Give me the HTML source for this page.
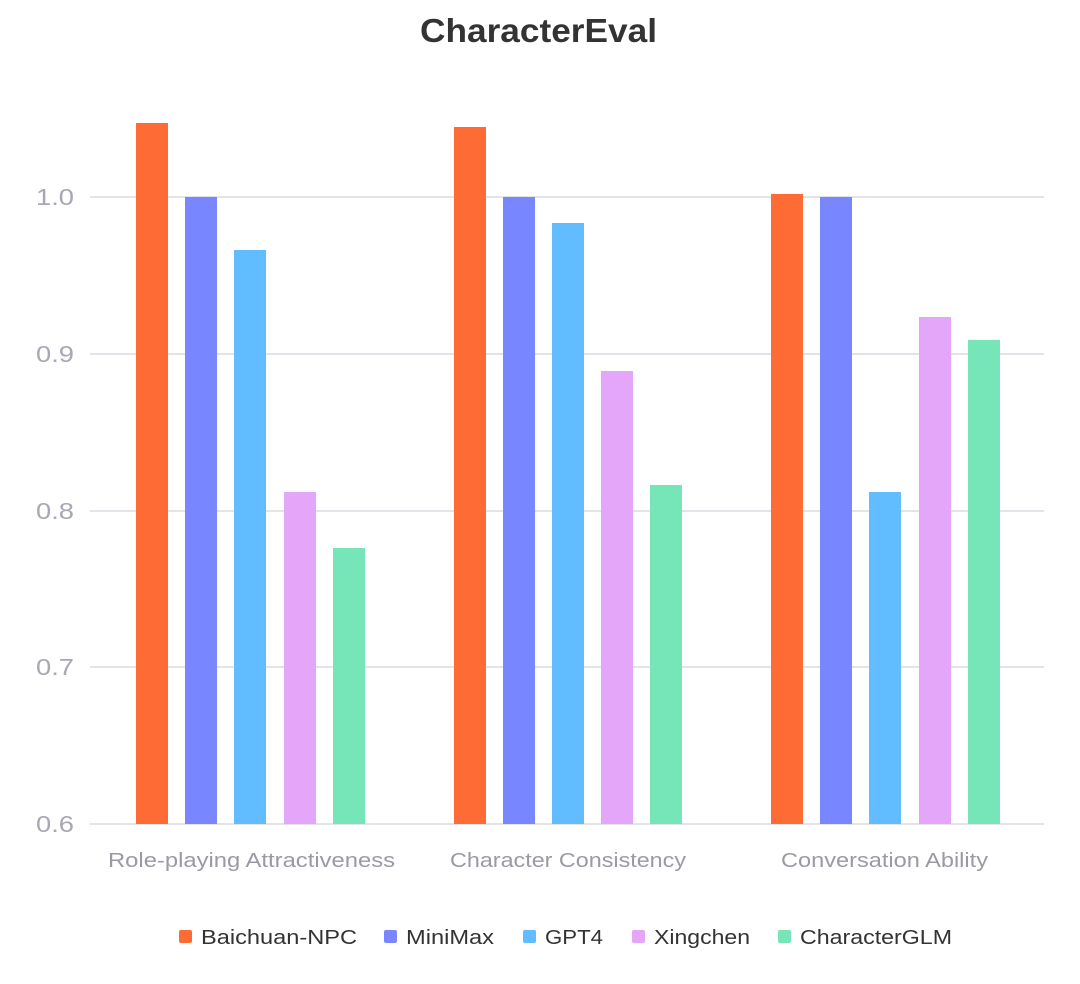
<!DOCTYPE html>
<html><head><meta charset="utf-8"><style>
body{margin:0;background:#fff;}
svg{display:block;font-family:"Liberation Sans",sans-serif;}
</style></head><body>
<svg width="1080" height="984" viewBox="0 0 1080 984">
<text x="420" y="42" font-size="33" font-weight="bold" fill="#333" textLength="237" lengthAdjust="spacingAndGlyphs">CharacterEval</text>
<g stroke="#e3e3ea" stroke-width="2">
<line x1="90" x2="1044" y1="197" y2="197"/>
<line x1="90" x2="1044" y1="354" y2="354"/>
<line x1="90" x2="1044" y1="511" y2="511"/>
<line x1="90" x2="1044" y1="667" y2="667"/>
<line x1="90" x2="1044" y1="824" y2="824"/>
</g>
<g font-size="23" fill="#a8a8b3">
<text x="36" y="205" textLength="38" lengthAdjust="spacingAndGlyphs">1.0</text>
<text x="36" y="362" textLength="38" lengthAdjust="spacingAndGlyphs">0.9</text>
<text x="36" y="519" textLength="38" lengthAdjust="spacingAndGlyphs">0.8</text>
<text x="36" y="675" textLength="38" lengthAdjust="spacingAndGlyphs">0.7</text>
<text x="36" y="832" textLength="38" lengthAdjust="spacingAndGlyphs">0.6</text>
</g>
<g>
<rect x="136" y="123" width="32" height="701" fill="#FF6B35"/>
<rect x="185" y="197" width="32" height="627" fill="#7886FF"/>
<rect x="234" y="250" width="32" height="574" fill="#61BDFF"/>
<rect x="284" y="492" width="32" height="332" fill="#E3A6F9"/>
<rect x="333" y="548" width="32" height="276" fill="#76E6B9"/>
<rect x="454" y="127" width="32" height="697" fill="#FF6B35"/>
<rect x="503" y="197" width="32" height="627" fill="#7886FF"/>
<rect x="552" y="223" width="32" height="601" fill="#61BDFF"/>
<rect x="601" y="371" width="32" height="453" fill="#E3A6F9"/>
<rect x="650" y="485" width="32" height="339" fill="#76E6B9"/>
<rect x="771" y="194" width="32" height="630" fill="#FF6B35"/>
<rect x="820" y="197" width="32" height="627" fill="#7886FF"/>
<rect x="869" y="492" width="32" height="332" fill="#61BDFF"/>
<rect x="919" y="317" width="32" height="507" fill="#E3A6F9"/>
<rect x="968" y="340" width="32" height="484" fill="#76E6B9"/>
</g>
<g font-size="20" fill="#9a9aa5">
<text x="108" y="867" textLength="287" lengthAdjust="spacingAndGlyphs">Role-playing Attractiveness</text>
<text x="450" y="867" textLength="236" lengthAdjust="spacingAndGlyphs">Character Consistency</text>
<text x="781" y="867" textLength="207" lengthAdjust="spacingAndGlyphs">Conversation Ability</text>
</g>
<g font-size="20" fill="#333">
<rect x="179" y="930" width="13" height="13" rx="2" fill="#FF6B35"/><text x="201" y="944" textLength="156" lengthAdjust="spacingAndGlyphs">Baichuan-NPC</text>
<rect x="384" y="930" width="13" height="13" rx="2" fill="#7886FF"/><text x="406" y="944" textLength="88" lengthAdjust="spacingAndGlyphs">MiniMax</text>
<rect x="523" y="930" width="13" height="13" rx="2" fill="#61BDFF"/><text x="545" y="944" textLength="58" lengthAdjust="spacingAndGlyphs">GPT4</text>
<rect x="632" y="930" width="13" height="13" rx="2" fill="#E3A6F9"/><text x="654" y="944" textLength="96" lengthAdjust="spacingAndGlyphs">Xingchen</text>
<rect x="778" y="930" width="13" height="13" rx="2" fill="#76E6B9"/><text x="800" y="944" textLength="152" lengthAdjust="spacingAndGlyphs">CharacterGLM</text>
</g>
</svg>
</body></html>
